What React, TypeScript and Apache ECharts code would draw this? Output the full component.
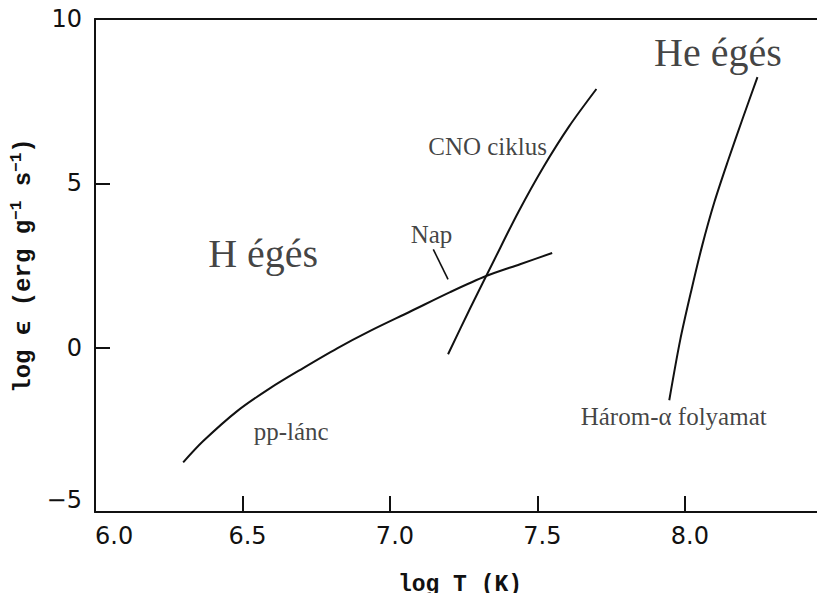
import { useEffect, useRef } from "react";
import * as echarts from "echarts";

// pp-chain energy generation rate (log T, log epsilon)
const ppT = [6.299, 6.366, 6.482, 6.594, 6.706, 6.821, 6.933, 7.069, 7.204, 7.326, 7.441, 7.55];
const ppEps = [-3.49, -2.85, -1.93, -1.23, -0.62, -0.02, 0.51, 1.1, 1.69, 2.18, 2.54, 2.88];

// CNO cycle
const cnoT = [7.197, 7.272, 7.353, 7.435, 7.52, 7.608, 7.7];
const cnoEps = [-0.2, 1.2, 2.66, 4.12, 5.49, 6.74, 7.87];

// triple-alpha process
const heT = [7.947, 7.984, 8.022, 8.059, 8.1, 8.147, 8.195, 8.246];
const heEps = [-1.6, 0.23, 1.75, 3.12, 4.43, 5.71, 6.95, 8.23];

// pointer from the "Nap" label to the Sun's position on the pp curve
const napT = [7.147, 7.197];
const napEps = [2.99, 2.08];

// annotation texts, anchored in data coordinates
const noteTexts = ["He égés", "H égés", "CNO ciklus", "Nap", "pp-lánc", "Három-α folyamat"];
const noteT = [8.112, 6.57, 7.331, 7.141, 6.665, 7.962];
const noteEps = [8.98, 2.86, 6.12, 3.44, -2.56, -2.1];
const noteBig = [true, true, false, false, false, false];

const xTicks = [6.0, 6.5, 7.0, 7.5, 8.0];
const yTicks = [-5, 0, 5, 10];

const zip = (a: number[], b: number[]) => a.map((v, i) => [v, b[i]]);

const INK = "#111";
const SERIF = "'Liberation Serif', 'Times New Roman', serif";
const MONO = "'Liberation Mono', 'Courier New', monospace";
const SANS = "'DejaVu Sans', sans-serif";

export default function App() {
  const ref = useRef<HTMLDivElement>(null);

  useEffect(() => {
    if (!ref.current) return;
    const chart = echarts.init(ref.current, undefined, { renderer: "svg" });

    const curve = (name: string, t: number[], e: number[]) => ({
      name,
      type: "line",
      data: zip(t, e),
      smooth: 0.3,
      symbol: "none",
      lineStyle: { color: INK, width: 2 },
      silent: true,
      z: 3,
    });

    chart.setOption({
      animation: false,
      backgroundColor: "#fff",
      grid: { left: 95, right: 0, top: 19, bottom: 89, containLabel: false, outerBoundsMode: "none" },
      xAxis: [
        {
          type: "value",
          min: xTicks[0],
          max: 8.475,
          interval: 0.5,
          name: "log T (K)",
          nameLocation: "middle",
          nameGap: 61,
          nameTextStyle: { fontFamily: MONO, fontWeight: "bold", fontSize: 23, color: INK },
          axisLine: { show: true, onZero: false, lineStyle: { color: INK, width: 2 } },
          axisTick: { show: true, inside: true, length: 16, lineStyle: { color: INK, width: 2 } },
          splitLine: { show: false },
          axisLabel: {
            showMaxLabel: false,
            alignMinLabel: "left",
            margin: 12,
            formatter: (v: number) =>
              xTicks.includes(v) ? (v === xTicks[0] ? `{first|${v.toFixed(1)}}` : `{n|${v.toFixed(1)}}`) : "",
            rich: {
              first: { fontFamily: SANS, fontSize: 24, color: INK },
              n: { fontFamily: SANS, fontSize: 24, color: INK, padding: [0, 0, 0, 10] },
            },
          },
        },
        {
          type: "value",
          position: "top",
          min: xTicks[0],
          max: 8.475,
          axisLine: { show: true, onZero: false, lineStyle: { color: INK, width: 2 } },
          axisTick: { show: false },
          axisLabel: { show: false },
          splitLine: { show: false },
        },
      ],
      yAxis: {
        type: "value",
        min: yTicks[0],
        max: yTicks[yTicks.length - 1],
        interval: 5,
        name: "{a|log ϵ (erg g}{s|−1}{a| s}{s|−1}{a|)}",
        nameLocation: "middle",
        nameRotate: 90,
        nameGap: 44,
        nameTextStyle: {
          color: INK,
          rich: {
            a: { fontFamily: MONO, fontWeight: "bold", fontSize: 24, color: INK, lineHeight: 30 },
            s: { fontFamily: MONO, fontWeight: "bold", fontSize: 16, color: INK, verticalAlign: "top", lineHeight: 16 },
          },
        },
        axisLine: { show: true, onZero: false, lineStyle: { color: INK, width: 2 } },
        axisTick: { show: true, inside: true, length: 15, lineStyle: { color: INK, width: 2 } },
        splitLine: { show: false },
        axisLabel: {
          margin: 13,
          verticalAlignMinLabel: "bottom",
          fontFamily: SANS,
          fontSize: 24,
          color: INK,
          formatter: (v: number) => String(v).replace("-", "−"),
        },
      },
      series: [
        curve("pp-lánc", ppT, ppEps),
        curve("CNO ciklus", cnoT, cnoEps),
        curve("Három-α folyamat", heT, heEps),
        {
          name: "Nap",
          type: "line",
          data: zip(napT, napEps),
          symbol: "none",
          lineStyle: { color: INK, width: 1.6 },
          silent: true,
        },
        {
          name: "feliratok",
          type: "scatter",
          symbolSize: 1,
          itemStyle: { color: "rgba(0,0,0,0)" },
          silent: true,
          data: noteTexts.map((txt, i) => ({
            value: [noteT[i], noteEps[i]],
            label: {
              show: true,
              position: "inside",
              formatter: txt,
              fontFamily: SERIF,
              fontSize: noteBig[i] ? 40 : 25,
              color: INK,
            },
          })),
        },
      ],
    });

    return () => chart.dispose();
  }, []);

  return (
    <div style={{ width: 825, height: 601, margin: -8, overflow: "hidden" }}>
      <div ref={ref} style={{ width: 825, height: 601 }} />
    </div>
  );
}
